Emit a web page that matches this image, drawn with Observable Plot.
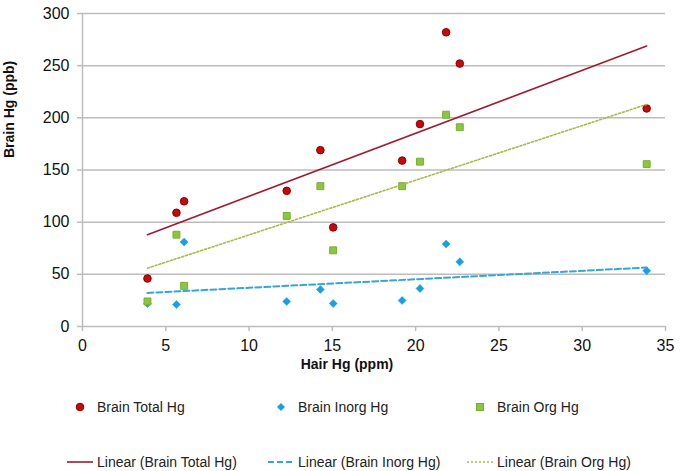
<!DOCTYPE html>
<html>
<head>
<meta charset="utf-8">
<script src="https://cdn.jsdelivr.net/npm/d3@7"></script>
<script src="https://cdn.jsdelivr.net/npm/@observablehq/plot@0.6"></script>
<style>
  body { margin: 0; background: #fff; font-family: "Liberation Sans", Arial, sans-serif; }
  #wrap { width: 681px; height: 471px; position: relative; overflow: hidden; }
  #legend { position: relative; width: 681px; height: 86px; font-size: 14px; color: #222; }
  .item { position: absolute; display: flex; align-items: center; white-space: nowrap; }
  .item svg { display: block; }
</style>
</head>
<body>
<div id="wrap">
  <div id="chart"></div>
  <div id="legend"></div>
</div>
<script>
// Data
const hairHg     = [3.9, 5.64, 6.1, 12.26, 14.28, 15.05, 19.19, 20.26, 21.83, 22.65, 33.87];
const brainTotal = [46, 109, 120, 130, 169, 95, 159, 194, 282, 252, 209];
const brainInorg = [22, 21, 81, 24, 35.5, 22, 25, 36.4, 79, 62, 53.4];
const brainOrg   = [24, 88, 39, 106, 134.5, 73, 134.5, 158, 203, 191, 155.6];
const seriesNames = ["Brain Total Hg", "Brain Inorg Hg", "Brain Org Hg"];
const xTicks = [0, 5, 10, 15, 20, 25, 30, 35];
const yTicks = [0, 50, 100, 150, 200, 250, 300];
const xLabel = "Hair Hg (ppm)";
const yLabel = "Brain Hg (ppb)";

const colors = {
  total: {fill: "#c40a0a", stroke: "#8e0000", line: "#9e1b32"},
  inorg: {fill: "#1a9fe2", stroke: "#1a9fe2", line: "#35a6d8"},
  org:   {fill: "#8cc63f", stroke: "#7aae32", line: "#a9b94c"}
};

const mk = (ys) => hairHg.map((x, i) => ({x, y: ys[i]}));
const dTotal = mk(brainTotal), dInorg = mk(brainInorg), dOrg = mk(brainOrg);

const chart = Plot.plot({
  width: 681,
  height: 385,
  marginLeft: 82,
  marginRight: 16,
  marginTop: 13,
  marginBottom: 59,
  style: {fontFamily: "'Liberation Sans', Arial, sans-serif", fontSize: "16px", color: "#111", background: "#fff"},
  x: {domain: [0, 35]},
  y: {domain: [0, 300]},
  marks: [
    Plot.gridY(yTicks, {stroke: "#bcbcbc", strokeOpacity: 1, strokeWidth: 1.5}),
    Plot.ruleX([0], {stroke: "#bcbcbc", strokeWidth: 1.5}),
    Plot.axisY(yTicks, {tickSize: 5, tickPadding: 8, stroke: "#bcbcbc", strokeWidth: 1.5, label: null, fontSize: 16, fill: "#111"}),
    Plot.axisX(xTicks, {tickSize: 5, tickPadding: 8, stroke: "#bcbcbc", strokeWidth: 1.5, label: null, fontSize: 16, fill: "#111"}),
    Plot.text([xLabel], {frameAnchor: "bottom", dx: -27, dy: 42, text: d => d, fontWeight: "bold", fontSize: 14, fill: "#111"}),
    Plot.text([yLabel], {frameAnchor: "left", rotate: -90, dx: -73, dy: -12, text: d => d, fontWeight: "bold", fontSize: 14, fill: "#111"}),
    Plot.dot(dTotal, {x: "x", y: "y", r: 3.8, fill: colors.total.fill, stroke: colors.total.stroke, strokeWidth: 1}),
    Plot.dot(dInorg, {x: "x", y: "y", r: 3.6, symbol: "diamond2", fill: colors.inorg.fill, stroke: colors.inorg.stroke, strokeWidth: 0.5}),
    Plot.dot(dOrg, {x: "x", y: "y", r: 3.9, symbol: "square", fill: colors.org.fill, stroke: colors.org.stroke, strokeWidth: 1}),
    Plot.linearRegressionY(dTotal, {x: "x", y: "y", ci: 0, stroke: colors.total.line, strokeWidth: 1.6}),
    Plot.linearRegressionY(dInorg, {x: "x", y: "y", ci: 0, stroke: colors.inorg.line, strokeWidth: 2, strokeDasharray: "6,3"}),
    Plot.linearRegressionY(dOrg, {x: "x", y: "y", ci: 0, stroke: colors.org.line, strokeWidth: 1.6, strokeDasharray: "2,2"})
  ]
});
document.getElementById("chart").appendChild(chart);

// Legend
const legend = document.getElementById("legend");
const textX = [97, 298, 497];
const keys = ["total", "inorg", "org"];
const symbols = [
  c => `<circle cx="8" cy="8" r="3.8" fill="${c.fill}" stroke="${c.stroke}" stroke-width="1"/>`,
  c => `<path d="M8 4 L12 8 L8 12 L4 8 Z" fill="${c.fill}"/>`,
  c => `<rect x="4.5" y="4.5" width="7" height="7" fill="${c.fill}" stroke="${c.stroke}" stroke-width="1"/>`
];
const lines = [
  c => `<line x1="0" y1="8" x2="26" y2="8" stroke="${c.line}" stroke-width="1.6"/>`,
  c => `<line x1="0" y1="8" x2="26" y2="8" stroke="${c.line}" stroke-width="2" stroke-dasharray="6,3"/>`,
  c => `<line x1="0" y1="8" x2="26" y2="8" stroke="${c.line}" stroke-width="1.6" stroke-dasharray="2,2"/>`
];
seriesNames.forEach((name, i) => {
  const c = colors[keys[i]];
  const a = document.createElement("div");
  a.className = "item";
  a.style.left = (textX[i] - 25) + "px";
  a.style.top = (22 - 8) + "px";
  a.innerHTML = `<svg width="16" height="16">${symbols[i](c)}</svg><span style="margin-left:9px">${name}</span>`;
  legend.appendChild(a);
  const b = document.createElement("div");
  b.className = "item";
  b.style.left = (textX[i] - 30) + "px";
  b.style.top = (77 - 8) + "px";
  b.innerHTML = `<svg width="26" height="16">${lines[i](c)}</svg><span style="margin-left:4px">Linear (${name})</span>`;
  legend.appendChild(b);
});
</script>
</body>
</html>
